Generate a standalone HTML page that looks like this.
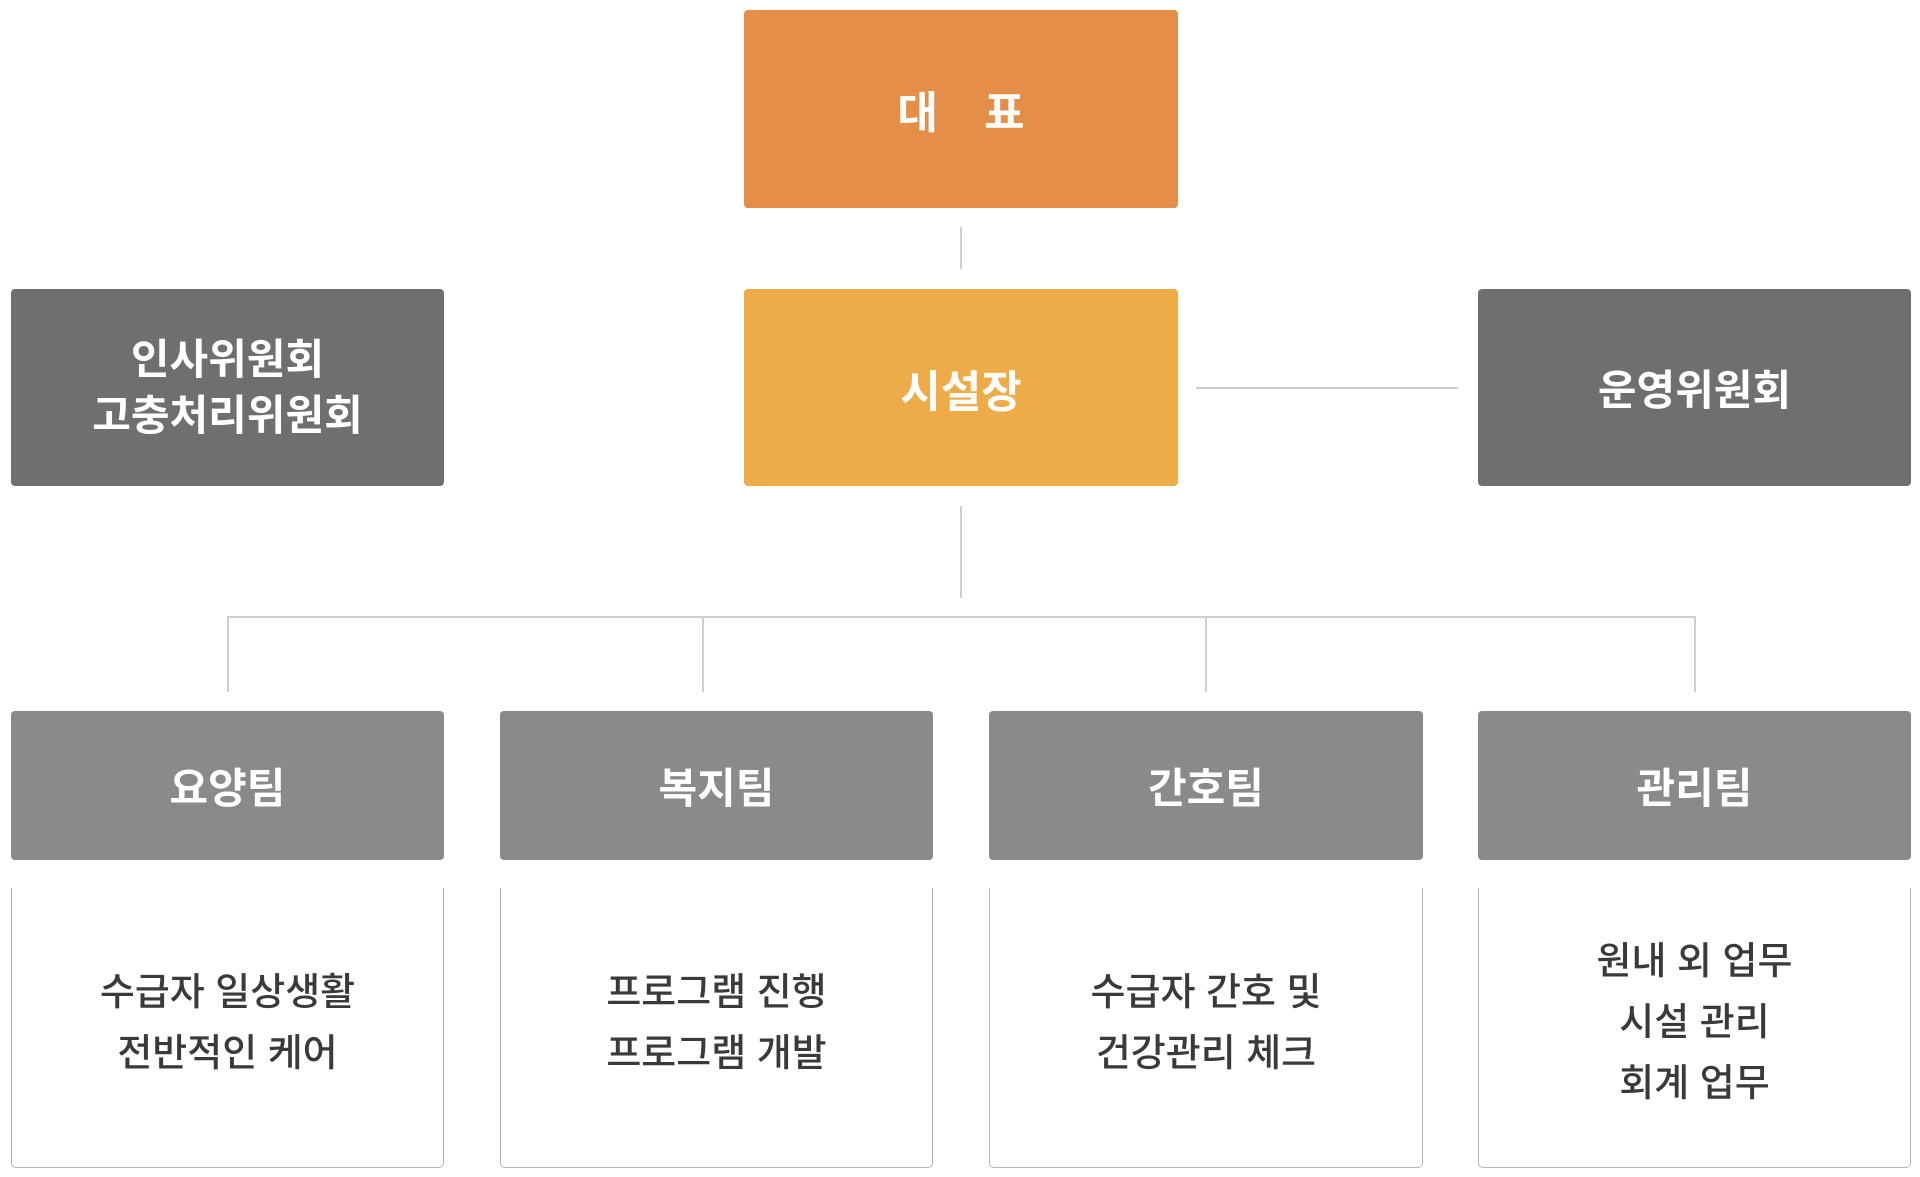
<!DOCTYPE html>
<html><head><meta charset="utf-8"><style>
body{margin:0;width:1920px;height:1177px;background:#fff;position:relative;overflow:hidden;font-family:"Liberation Sans","Noto Sans CJK KR",sans-serif}
.b{position:absolute;display:flex;align-items:center;justify-content:center;text-align:center;color:#fff;font-weight:bold;border-radius:4px}
.l{position:absolute;background:#cfcfcf}
.d{position:absolute;top:888px;height:280px;padding-bottom:8px;border:1px solid #b5b5b5;border-top:none;border-radius:0 0 5px 5px;box-sizing:border-box;display:flex;align-items:center;justify-content:center;text-align:center;color:#3a3a3a;font-size:38px;font-weight:500;line-height:61px}
</style></head><body>
<div class="b" style="left:744px;top:10px;width:434px;height:198px;background:#E58E48;font-size:44px;word-spacing:34px">대 표</div>
<div class="l" style="left:960px;top:227px;width:2px;height:42px"></div>
<div class="b" style="left:11px;top:289px;width:433px;height:197px;background:#6F6F6F;font-size:42px;line-height:56px">인사위원회<br>고충처리위원회</div>
<div class="b" style="left:744px;top:289px;width:434px;height:197px;background:#EDAC48;font-size:44px">시설장</div>
<div class="b" style="left:1478px;top:289px;width:433px;height:197px;background:#6F6F6F;font-size:42px">운영위원회</div>
<div class="l" style="left:1196px;top:387px;width:262px;height:2px"></div>
<div class="l" style="left:960px;top:506px;width:2px;height:92px"></div>
<div class="l" style="left:227px;top:616px;width:1469px;height:2px"></div>
<div class="l" style="left:227px;top:616px;width:2px;height:76px"></div>
<div class="l" style="left:702px;top:616px;width:2px;height:76px"></div>
<div class="l" style="left:1205px;top:616px;width:2px;height:76px"></div>
<div class="l" style="left:1694px;top:616px;width:2px;height:76px"></div>
<div class="b" style="left:11px;top:711px;width:433px;height:149px;background:#8A8A8A;font-size:42px">요양팀</div>
<div class="b" style="left:500px;top:711px;width:433px;height:149px;background:#8A8A8A;font-size:42px">복지팀</div>
<div class="b" style="left:989px;top:711px;width:434px;height:149px;background:#8A8A8A;font-size:42px">간호팀</div>
<div class="b" style="left:1478px;top:711px;width:433px;height:149px;background:#8A8A8A;font-size:42px">관리팀</div>
<div class="d" style="left:11px;width:433px">수급자 일상생활<br>전반적인 케어</div>
<div class="d" style="left:500px;width:433px">프로그램 진행<br>프로그램 개발</div>
<div class="d" style="left:989px;width:434px">수급자 간호 및<br>건강관리 체크</div>
<div class="d" style="left:1478px;width:433px">원내 외 업무<br>시설 관리<br>회계 업무</div>
</body></html>
